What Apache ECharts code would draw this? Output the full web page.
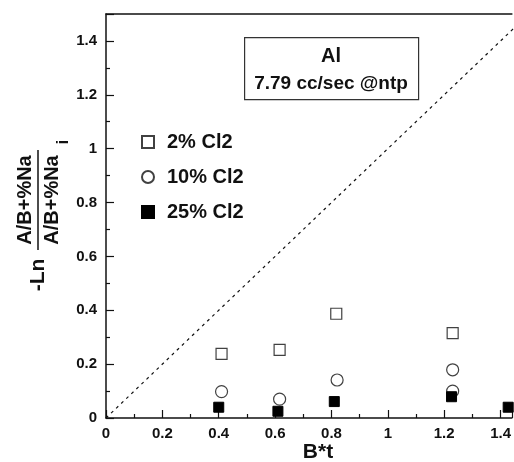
<!DOCTYPE html>
<html>
<head>
<meta charset="utf-8">
<script src="https://cdn.jsdelivr.net/npm/echarts@6/dist/echarts.min.js"></script>
<style>html,body{margin:0;padding:0;background:#fff}#c{width:514px;height:462px}</style>
</head>
<body>
<div id="c"></div>
<script>
const seriesNames = ['2% Cl2', '10% Cl2', '25% Cl2'];
const xTwo = [0.41, 0.616, 0.817, 1.23];
const yTwo = [0.238, 0.253, 0.387, 0.315];
const xTen = [0.41, 0.616, 0.82, 1.23, 1.23];
const yTen = [0.098, 0.07, 0.141, 0.179, 0.10];
const xTwentyFive = [0.40, 0.61, 0.81, 1.226, 1.427];
const yTwentyFive = [0.040, 0.025, 0.061, 0.079, 0.040];
const refLineX = [0, 1.5];
const boxLines = ['Al', '7.79 cc/sec @ntp'];

const zip = (xs, ys) => xs.map((x, i) => [x, ys[i]]);
const ink = '#111';
const font = 'Liberation Sans, Arial, sans-serif';

const chart = echarts.init(document.getElementById('c'));
chart.setOption({
  animation: false,
  backgroundColor: '#fff',
  grid: { left: 106, right: 0, top: 14, bottom: 44 },
  xAxis: [{
    type: 'value', min: 0, max: 1.44, interval: 0.2,
    axisLine: { show: true, lineStyle: { color: ink, width: 1.5 } },
    axisTick: { inside: true, length: 8, lineStyle: { color: ink, width: 1.2 } },
    minorTick: { show: true, splitNumber: 2, length: 4, lineStyle: { color: ink, width: 1.2 } },
    splitLine: { show: false },
    axisLabel: { color: ink, fontFamily: font, fontWeight: 'bold', fontSize: 15, margin: 8, showMaxLabel: false }
  }, {
    type: 'value', position: 'top', min: 0, max: 1.44,
    axisLine: { show: true, onZero: false, lineStyle: { color: ink, width: 1.5 } },
    axisTick: { show: false }, axisLabel: { show: false }, splitLine: { show: false }
  }],
  yAxis: {
    type: 'value', min: 0, max: 1.5, interval: 0.2,
    axisLine: { show: true, lineStyle: { color: ink, width: 1.5 } },
    axisTick: { inside: true, length: 8, lineStyle: { color: ink, width: 1.2 } },
    minorTick: { show: true, splitNumber: 2, length: 4, lineStyle: { color: ink, width: 1.2 } },
    splitLine: { show: false },
    axisLabel: { color: ink, fontFamily: font, fontWeight: 'bold', fontSize: 15, margin: 9, showMaxLabel: false }
  },
  legend: {
    data: seriesNames, orient: 'vertical', left: 136, top: 127,
    itemWidth: 12, itemHeight: 12, itemGap: 15,
    textStyle: { color: ink, fontFamily: font, fontWeight: 'bold', fontSize: 20, padding: [0, 0, 0, 8] }
  },
  graphic: [
    { type: 'rect', left: 244, top: 37, shape: { width: 174, height: 62 },
      style: { fill: '#fff', stroke: '#333', lineWidth: 1.2 }, z: 10 },
    { type: 'text', x: 331, y: 56, z: 11,
      style: { text: boxLines[0], fill: ink, font: 'bold 20px ' + font, align: 'center', verticalAlign: 'middle' } },
    { type: 'text', x: 331, y: 84, z: 11,
      style: { text: boxLines[1], fill: ink, font: 'bold 19px ' + font, align: 'center', verticalAlign: 'middle' } },
    { type: 'text', x: 318, y: 452,
      style: { text: 'B*t', fill: ink, font: 'bold 21px ' + font, align: 'center', verticalAlign: 'middle' } },
    { type: 'text', x: 38, y: 275, rotation: Math.PI / 2,
      style: { text: '-Ln', fill: ink, font: 'bold 21px ' + font, align: 'center', verticalAlign: 'middle' } },
    { type: 'text', x: 25, y: 200, rotation: Math.PI / 2,
      style: { text: 'A/B+%Na', fill: ink, font: 'bold 20px ' + font, align: 'center', verticalAlign: 'middle' } },
    { type: 'line', shape: { x1: 38, y1: 150, x2: 38, y2: 250 }, style: { stroke: ink, lineWidth: 1.5 } },
    { type: 'text', x: 52, y: 200, rotation: Math.PI / 2,
      style: { text: 'A/B+%Na', fill: ink, font: 'bold 20px ' + font, align: 'center', verticalAlign: 'middle' } },
    { type: 'text', x: 64, y: 142, rotation: Math.PI / 2,
      style: { text: 'i', fill: ink, font: 'bold 16px ' + font, align: 'center', verticalAlign: 'middle' } }
  ],
  series: [
    { type: 'line', data: zip(refLineX, refLineX), symbol: 'none', silent: true,
      lineStyle: { color: ink, width: 1.2, type: [3, 4] } },
    { name: seriesNames[0], type: 'scatter', data: zip(xTwo, yTwo), symbol: 'rect', symbolSize: 11,
      itemStyle: { color: '#fff', borderColor: ink, borderWidth: 1.2 } },
    { name: seriesNames[1], type: 'scatter', data: zip(xTen, yTen), symbol: 'circle', symbolSize: 12,
      itemStyle: { color: '#fff', borderColor: ink, borderWidth: 1.2 } },
    { name: seriesNames[2], type: 'scatter', data: zip(xTwentyFive, yTwentyFive), symbol: 'rect', symbolSize: 10,
      itemStyle: { color: '#000', borderColor: '#000', borderWidth: 1, opacity: 1 } }
  ]
});
</script>
</body>
</html>
